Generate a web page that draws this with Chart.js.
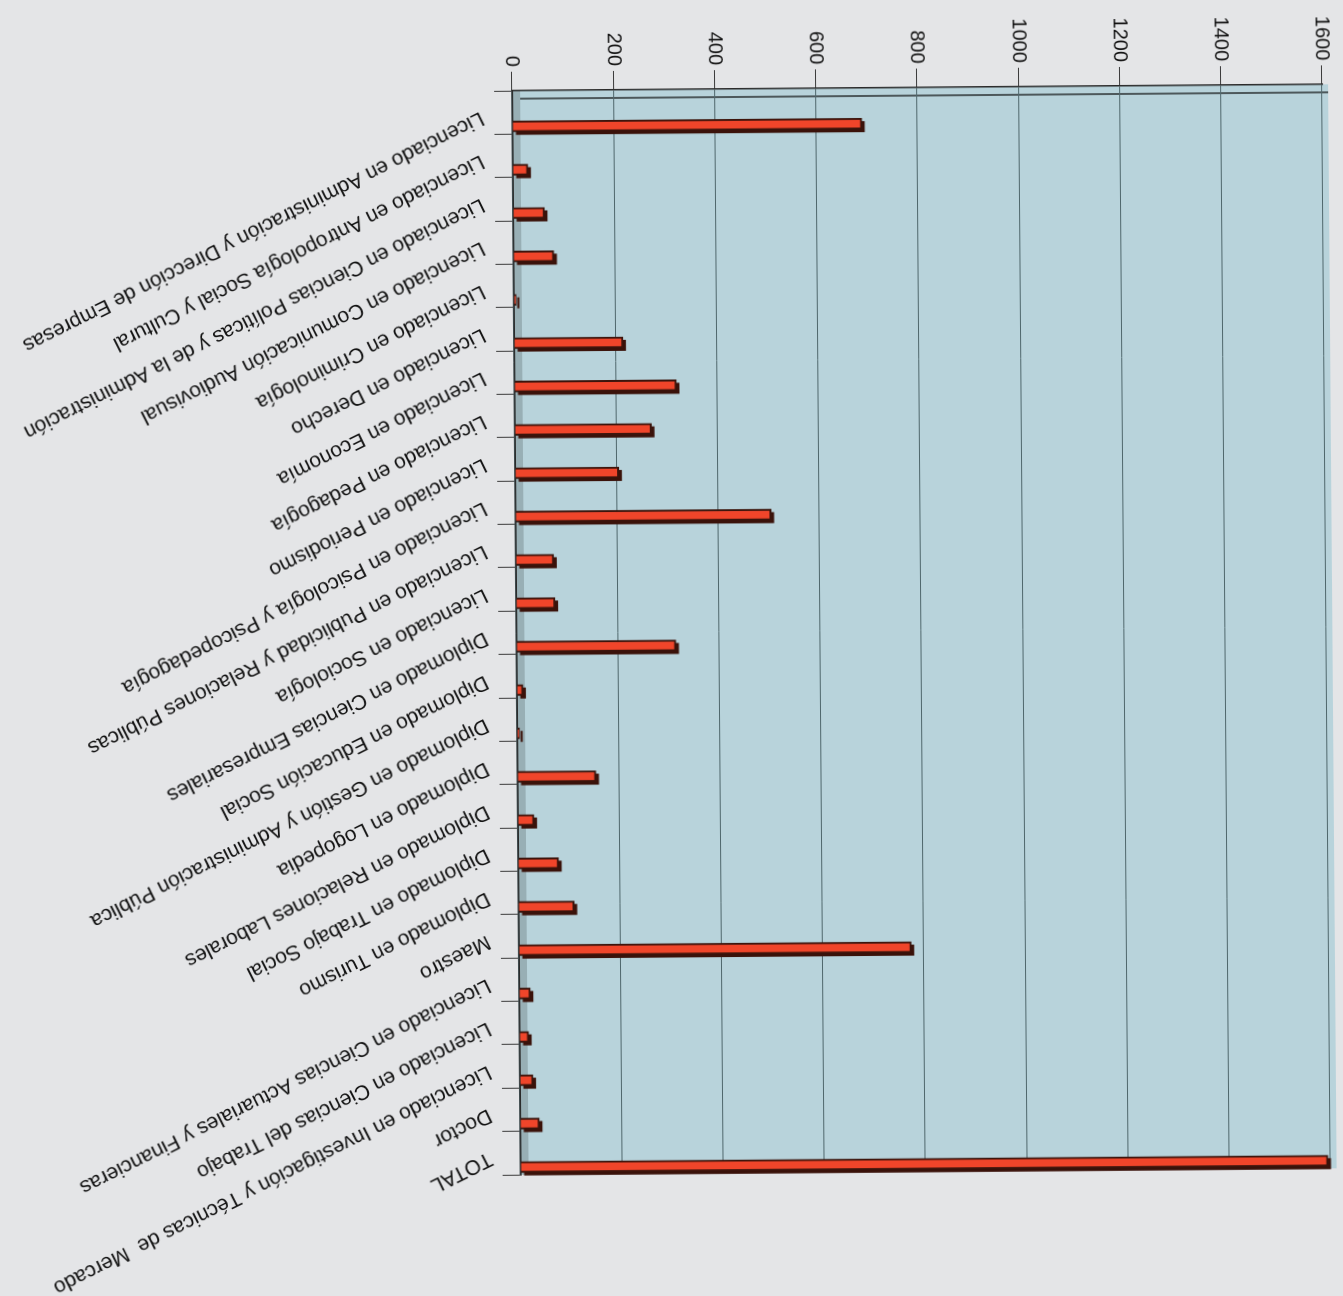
<!DOCTYPE html>
<html>
<head>
<meta charset="utf-8">
<script src="https://cdn.jsdelivr.net/npm/chart.js@4.4.0/dist/chart.umd.min.js"></script>
<style>
  html, body { margin: 0; padding: 0; background: #e4e5e7; overflow: hidden; }
  body { width: 1343px; height: 1296px; position: relative; }
  /* the scanned page is turned a quarter turn: draw a column chart and rotate it */
  #wrap { position: absolute; left: 23.5px; top: -23.5px; width: 1296px; height: 1343px;
          transform: rotate(89.55deg); transform-origin: 50% 50%; }
</style>
</head>
<body>
<div id="wrap"><canvas id="chart" width="1296" height="1343"></canvas></div>
<script>
// Data
const categories = [
    "Licenciado en Administración y Dirección de Empresas",
    "Licenciado en Antropología Social y Cultural",
    "Licenciado en Ciencias Políticas y de la Administración",
    "Licenciado en Comunicación Audiovisual",
    "Licenciado en Criminología",
    "Licenciado en Derecho",
    "Licenciado en Economía",
    "Licenciado en Pedagogía",
    "Licenciado en Periodismo",
    "Licenciado en Psicología y Psicopedagogía",
    "Licenciado en Publicidad y Relaciones Públicas",
    "Licenciado en Sociología",
    "Diplomado en Ciencias Empresariales",
    "Diplomado en Educación Social",
    "Diplomado en Gestión y Administración Pública",
    "Diplomado en Logopedia",
    "Diplomado en Relaciones Laborales",
    "Diplomado en Trabajo Social",
    "Diplomado en Turismo",
    "Maestro",
    "Licenciado en Ciencias Actuariales y Financieras",
    "Licenciado en Ciencias del Trabajo",
    "Licenciado en Investigación y Técnicas de  Mercado",
    "Doctor",
    "TOTAL"
];
const values = [690, 30, 62, 80, 5, 215, 320, 270, 205, 505, 75, 77, 315, 12, 5, 155, 32, 80, 110, 775, 22, 18, 26, 38, 1595];
const tickValues = [0, 200, 400, 600, 800, 1000, 1200, 1400, 1600];

const context = document.getElementById("chart").getContext("2d");

//Wall, floor and the inner top edge of the 3D plot
const wall = {
    id: "wall",
    beforeDraw(chart) {
        const {ctx, chartArea: a} = chart;
        ctx.save();
        ctx.fillStyle = "#b8d3db";
        ctx.fillRect(a.left, a.top - 6, a.right - a.left, a.bottom - a.top + 6);
        ctx.fillStyle = "#98afb5";
        ctx.fillRect(a.left, a.bottom - 8, a.right - a.left, 8);
        ctx.strokeStyle = "#2a2f30";
        ctx.lineWidth = 1.5;
        ctx.beginPath();
        ctx.moveTo(a.left + 8, a.top - 6);
        ctx.lineTo(a.left + 8, a.bottom - 8);
        ctx.stroke();
        ctx.restore();
    }
};

//Bars sit at the front of each slot and show a dark side
const depth = {
    id: "depth",
    beforeDatasetsDraw(chart) {
        const ctx = chart.ctx;
        ctx.save();
        ctx.translate(14, 0);
        ctx.fillStyle = "#3a120a";
        chart.getDatasetMeta(0).data.forEach(bar => {
            const {x, y, base, width} = bar.getProps(["x", "y", "base", "width"], true);
            ctx.fillRect(x - width / 2 + 3, y - 3, width, base - y);
        });
    },
    afterDatasetsDraw(chart) {
        chart.ctx.restore();
    }
};

//Slanted category labels
const slantLabels = {
    id: "slantLabels",
    afterDraw(chart) {
        const {ctx, chartArea, scales: {x}} = chart;
        ctx.save();
        ctx.font = '21px "Liberation Sans", Arial, sans-serif';
        ctx.fillStyle = "#111111";
        ctx.textAlign = "left";
        ctx.textBaseline = "middle";
        categories.forEach((label, i) => {
            ctx.save();
            ctx.translate(x.getPixelForValue(i) + 4, chartArea.bottom + 30);
            ctx.rotate(63.8 * Math.PI / 180);
            ctx.fillText(label, 0, 0);
            ctx.restore();
        });
        ctx.restore();
    }
};

new Chart(context, {
    type: "bar",
    data: {
        labels: categories,
        datasets: [{
            data: values,
            backgroundColor: "#f0452a",
            borderColor: "#3b140c",
            borderWidth: 2,
            barThickness: 11,
            clip: 20
        }]
    },
    options: {
        responsive: false,
        animation: false,
        layout: { padding: { left: 0, right: 123, top: 17, bottom: 0 } },
        plugins: { legend: { display: false }, tooltip: { enabled: false } },
        scales: {
            x: {
                offset: true,
                grid: { offset: true, drawOnChartArea: false, drawTicks: true, tickLength: 18, color: "#3a3a3a" },
                border: { display: true, color: "#2a2a2a", width: 1.5 },
                ticks: { display: false },
                afterFit(scale) { scale.height = 516; }
            },
            y: {
                min: 0,
                max: 1600,
                afterBuildTicks(scale) { scale.ticks = tickValues.map(v => ({ value: v })); },
                grid: { color: "#4f676c", lineWidth: 1, tickLength: 19, tickColor: "#3a3a3a" },
                border: { display: true, color: "#2a2a2a", width: 1.5 },
                ticks: {
                    padding: 5,
                    color: "#111111",
                    font: { family: '"Liberation Sans", Arial, sans-serif', size: 20 },
                    callback: value => String(value)
                },
                afterFit(scale) { scale.width = 89; }
            }
        }
    },
    plugins: [wall, depth, slantLabels]
});
</script>
</body>
</html>
